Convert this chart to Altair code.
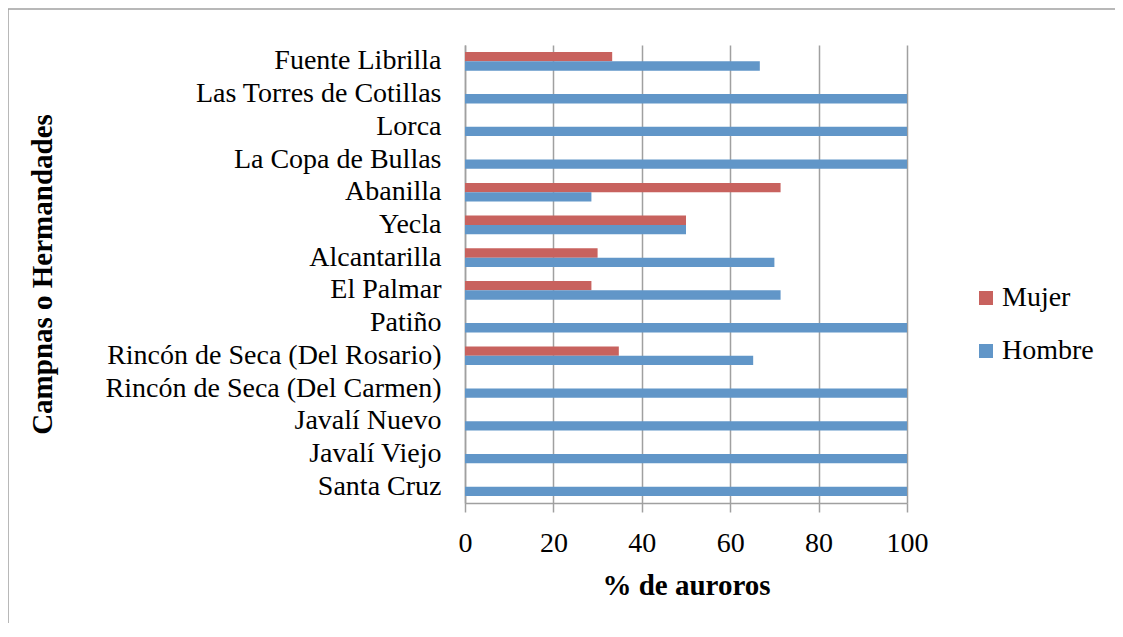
import altair as alt
import pandas as pd

categories = [
    "Fuente Librilla", "Las Torres de Cotillas", "Lorca", "La Copa de Bullas",
    "Abanilla", "Yecla", "Alcantarilla", "El Palmar", "Patiño",
    "Rincón de Seca (Del Rosario)", "Rincón de Seca (Del Carmen)",
    "Javalí Nuevo", "Javalí Viejo", "Santa Cruz",
]
mujer = [33.3, 0, 0, 0, 71.4, 50, 30, 28.6, 0, 34.8, 0, 0, 0, 0]
hombre = [66.7, 100, 100, 100, 28.6, 50, 70, 71.4, 100, 65.2, 100, 100, 100, 100]
series = ["Mujer", "Hombre"]
colors = ["#C8625E", "#6196C8"]
x_ticks = [0, 20, 40, 60, 80, 100]

rows = []
for c, m, h in zip(categories, mujer, hombre):
    rows.append({"Campana": c, "Sexo": "Mujer", "Porcentaje": m})
    rows.append({"Campana": c, "Sexo": "Hombre", "Porcentaje": h})
df = pd.DataFrame(rows)

FONT = "Liberation Serif"
GRAY = "#A0A0A0"

bars = alt.Chart(df).mark_bar().encode(
    y=alt.Y(
        "Campana:N",
        sort=categories,
        scale=alt.Scale(paddingInner=0.43, paddingOuter=0.215),
        axis=alt.Axis(
            title="Campnas o Hermandades",
            titleFont=FONT, titleFontSize=29, titleFontWeight="bold", titleColor="black",
            titleAngle=-90, titleX=-423, titleY=229, titleAlign="center", titleBaseline="middle",
            labelFont=FONT, labelFontSize=28, labelColor="black", labelPadding=24,
            labelLimit=600,
            ticks=False, domain=True, domainColor=GRAY, domainWidth=1.5, grid=False,
        ),
    ),
    yOffset=alt.YOffset("Sexo:N", sort=series),
    x=alt.X(
        "Porcentaje:Q",
        scale=alt.Scale(domain=[0, 100], nice=False),
        axis=alt.Axis(
            values=x_ticks, title="% de auroros",
            titleFont=FONT, titleFontSize=29, titleFontWeight="bold", titleColor="black",
            titleX=221, titleY=82, titleAlign="center", titleBaseline="middle",
            labelFont=FONT, labelFontSize=28, labelColor="black", labelPadding=17,
            labelFlush=False,
            grid=True, gridColor=GRAY, gridWidth=1.5,
            domainColor=GRAY, domainWidth=1.5, tickColor=GRAY, tickWidth=1.5, tickSize=9,
        ),
    ),
    color=alt.Color(
        "Sexo:N", sort=series,
        scale=alt.Scale(domain=series, range=colors),
        legend=alt.Legend(
            title=None, orient="none", legendX=507, legendY=239,
            symbolType="square", symbolSize=196, symbolStrokeWidth=0,
            labelFont=FONT, labelFontSize=28, labelColor="black", labelOffset=2,
            rowPadding=25, padding=0,
        ),
    ),
)

frame_df = pd.DataFrame({"k": [0]})
top_line = alt.Chart(frame_df).mark_rule(color=GRAY, strokeWidth=1.5).encode(
    x=alt.value(-458), x2=alt.value(720), y=alt.value(-36)
)
left_line = alt.Chart(frame_df).mark_rule(color=GRAY, strokeWidth=1.5).encode(
    x=alt.value(-457), y=alt.value(-36), y2=alt.value(620)
)

chart = alt.layer(bars, top_line, left_line).properties(
    width=442, height=458,
    padding={"left": 457, "top": 37, "right": 208, "bottom": 120},
    autosize=alt.AutoSizeParams(type="none"),
).configure_view(strokeWidth=0)

chart.save("out.html", embed_options={"renderer": "svg", "actions": False})
